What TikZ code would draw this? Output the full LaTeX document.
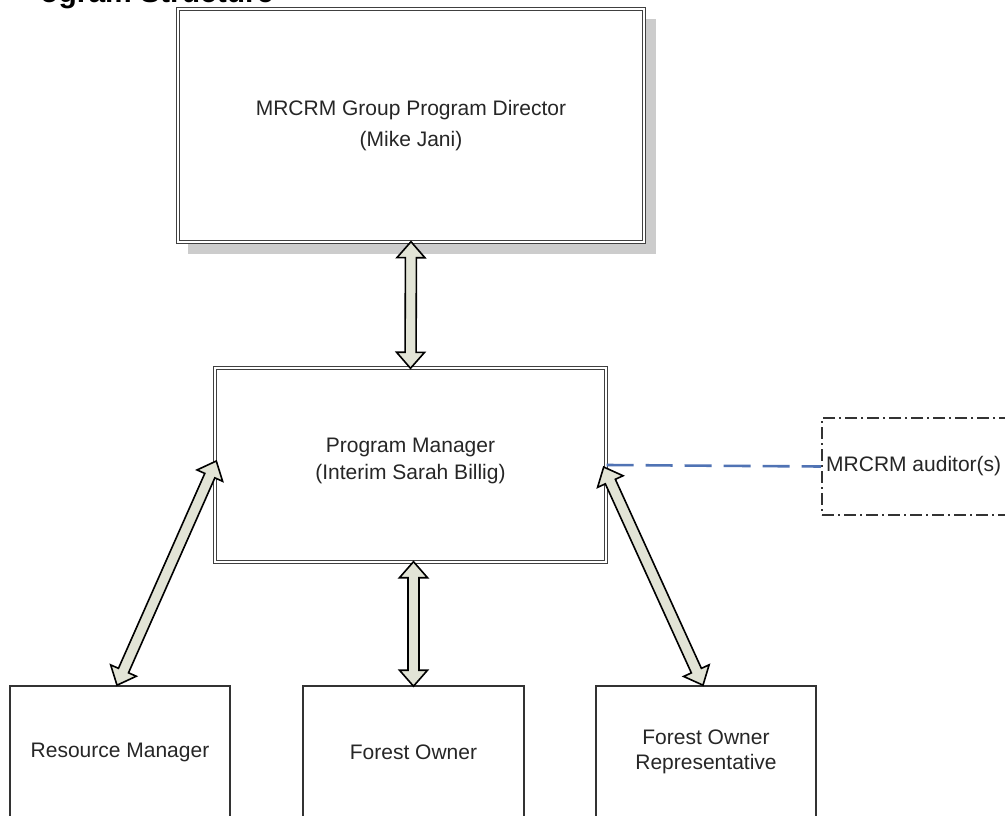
\documentclass[tikz,border=0pt]{standalone}
\usepackage{fontspec}
\setmainfont{Liberation Sans}
\usetikzlibrary{calc}
\definecolor{arrowfill}{RGB}{226,228,214}
\definecolor{linkblue}{RGB}{80,115,180}
\definecolor{shadowc}{RGB}{204,204,204}
\newcommand\bigdblarrow[2]{%
  \coordinate (hA) at ($(#1)!16pt!(#2)$);
  \coordinate (hB) at ($(#2)!16pt!(#1)$);
  \draw[fat] (#1) -- ($(hA)!14pt!90:(#2)$) -- ($(hA)!5.5pt!90:(#2)$)
    -- ($(hB)!5.5pt!-90:(#1)$) -- ($(hB)!14pt!-90:(#1)$) -- (#2)
    -- ($(hB)!14pt!90:(#1)$) -- ($(hB)!5.5pt!90:(#1)$)
    -- ($(hA)!5.5pt!-90:(#2)$) -- ($(hA)!14pt!-90:(#2)$) -- cycle;}
\begin{document}
\begin{tikzpicture}[x=1pt,y=-1pt,
  txt/.style={font=\fontsize{21}{31}\selectfont, text=black!85, align=center},
  dblbox/.style={draw=black!75, line width=1.4pt, double=white, double distance=2pt,
    fill=white, inner sep=0pt, txt},
  plainbox/.style={draw=black!80, line width=1.6pt, fill=white, inner sep=0pt},
  audbox/.style={draw=black!80, line width=2pt, dash pattern=on 12pt off 4pt on 2pt off 4pt,
    inner sep=0pt},
  fat/.style={draw=black, line width=1.6pt, fill=arrowfill, line join=miter},
  link/.style={draw=linkblue, line width=2.6pt, dash pattern=on 27pt off 12pt},
  title/.style={font=\fontsize{30}{36}\selectfont\bfseries, text=black, inner sep=0pt}
]
\useasboundingbox (0,0) rectangle (1005,816);
\fill[white] (0,0) rectangle (1005,816);

% cut-off title (cropped at the top edge, as in the reference)
\node[title, anchor=base west] (ttl) at (40,3) {ogram Structure};

% shadow of the director box
\fill[shadowc] (188,19) rectangle (656,254);

\node[dblbox, minimum width=466pt, minimum height=233pt] (dir) at (411,125.5)
  {MRCRM Group Program Director\\(Mike Jani)};
\node[dblbox, minimum width=391pt, minimum height=194pt] (pm) at (410.5,465) {};
\node[txt, font=\fontsize{21}{27}\selectfont] (pmt) at (410.5,461)
  {Program Manager\\(Interim Sarah Billig)};

\node[audbox, minimum width=200pt, minimum height=97pt] (aud) at (922,466.5) {};
\node[txt, anchor=west, inner sep=0pt] (audt) at (826,466.5) {MRCRM auditor(s)};

\node[plainbox, minimum width=220pt, minimum height=160pt] (rm) at (120,766) {};
\node[plainbox, minimum width=221pt, minimum height=160pt] (fo) at (413.5,766) {};
\node[plainbox, minimum width=220pt, minimum height=160pt] (rep) at (706,766) {};
\node[txt] (rmt) at (120,752) {Resource Manager};
\node[txt] (fot) at (413.5,752) {Forest Owner};
\node[txt, font=\fontsize{21}{25}\selectfont] (rept) at (706,752) {Forest Owner\\Representative};

% connectors
\draw[link] (pm.east) -- (aud.west);

\coordinate (a1) at ($(dir.south)+(0,-1)$);
\coordinate (a2) at ($(pm.north)+(0,1)$);
\bigdblarrow{a1}{a2}
\coordinate (b1) at ($(pm.south -| fo.north)+(0,-1)$);
\coordinate (b2) at ($(fo.north)+(0,1)$);
\bigdblarrow{b1}{b2}
\coordinate (c1) at ($(pm.west)+(2,-4)$);
\coordinate (c2) at ($(rm.north)+(-3,0)$);
\bigdblarrow{c1}{c2}
\coordinate (d1) at ($(pm.east)+(-3,2)$);
\coordinate (d2) at ($(rep.north)+(-3,0)$);
\bigdblarrow{d1}{d2}
\end{tikzpicture}
\end{document}
